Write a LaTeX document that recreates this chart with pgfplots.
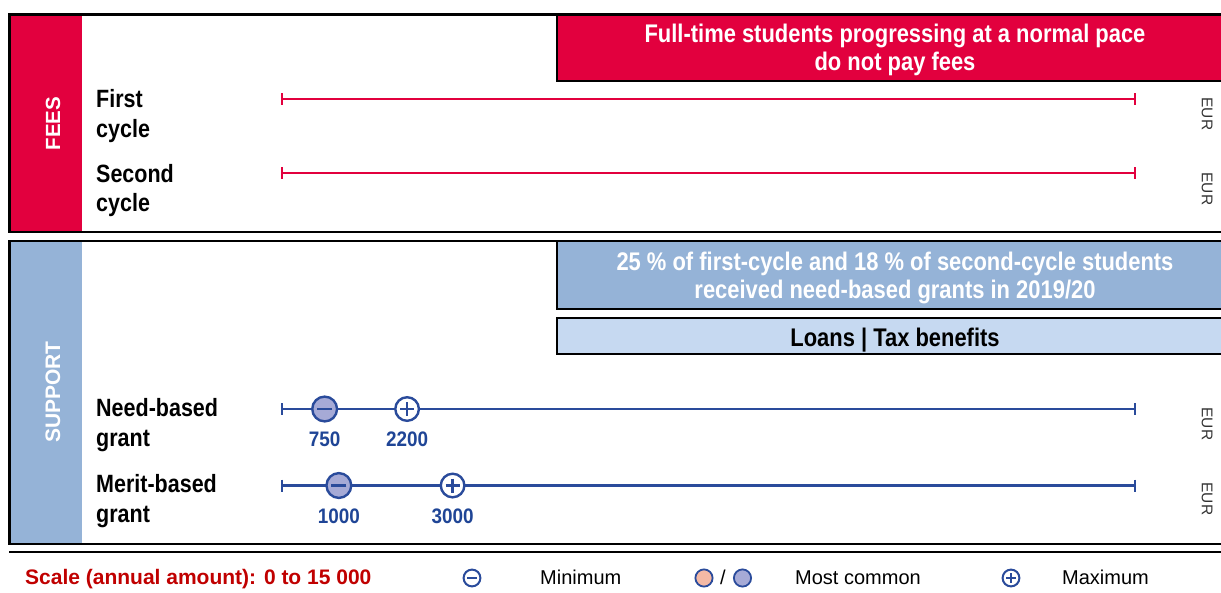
\documentclass[border=0pt]{standalone}
\usepackage{fontspec}
\setmainfont{Liberation Sans}
\newfontfamily\narrow[FakeStretch=0.86]{Liberation Sans}
\newfontfamily\numfont[FakeStretch=0.9]{Liberation Sans}
\usepackage{pgfplots}
\usepackage{pgfplotstable}
\pgfplotsset{compat=1.18}
\usetikzlibrary{plotmarks}
\definecolor{feesred}{HTML}{E2003E}
\definecolor{supblue}{HTML}{95B3D7}
\definecolor{lightblue}{HTML}{C6D9F1}
\definecolor{lineblue}{HTML}{2A4B9B}
\definecolor{numblue}{HTML}{1F4596}
\definecolor{minfill}{HTML}{A6AAD6}
\definecolor{orangefill}{HTML}{F4B9A5}
\definecolor{scalered}{HTML}{C00000}
\definecolor{eurgray}{HTML}{333333}
\newcommand{\fs}[1]{\fontsize{#1}{#1}\selectfont}
% scale: 0 EUR at x=282 px, 15000 EUR at x=1135 px
\newcommand{\eurx}{282+\thisrow{eur}*853/15000}

\pgfplotstableread{
eur y
0 99
15000 99
}\firstcycle
\pgfplotstableread{
eur y
0 173
15000 173
}\secondcycle
\pgfplotstableread{
eur y
0 409
15000 409
}\needline
\pgfplotstableread{
eur y
0 485.5
15000 485.5
}\meritline
\pgfplotstableread{
eur y lbl
750 409 750
1000 485.5 1000
}\minvals
\pgfplotstableread{
eur y lbl
2200 409 2200
3000 485.5 3000
}\maxvals

\begin{document}
\begin{tikzpicture}[every node/.style={inner sep=0pt}]
\begin{axis}[
  width=1221pt, height=592pt, scale only axis,
  xmin=0, xmax=1221, ymin=0, ymax=592, y dir=reverse,
  hide axis, clip=false,
]
% ---- FEES panel
\fill[feesred] (10,15) rectangle (82,232);
\fill[feesred] (557,15) rectangle (1221,81);
\draw[line width=2pt] (557,15) -- (557,81) -- (1221,81);
\draw[line width=2.2pt] (1221,14.5) -- (9.5,14.5) -- (9.5,232) -- (1221,232);
\node[rotate=90, text=white, font=\bfseries\fs{20.5}] at (53,123.5) {FEES};
\node[anchor=base, text=white, font=\narrow\bfseries\fs{25.5}] at (895,42.5)
  {Full-time students progressing at a normal pace};
\node[anchor=base, text=white, font=\narrow\bfseries\fs{25.5}] at (895,70.5)
  {do not pay fees};
\node[anchor=base west, font=\narrow\bfseries\fs{25}] at (96,107) {First};
\node[anchor=base west, font=\narrow\bfseries\fs{25}] at (96,137) {cycle};
\node[anchor=base west, font=\narrow\bfseries\fs{25}] at (96,182) {Second};
\node[anchor=base west, font=\narrow\bfseries\fs{25}] at (96,211.5) {cycle};
\node[rotate=-90, text=eurgray, font=\fs{15.5}] at (1207,114) {EUR};
\node[rotate=-90, text=eurgray, font=\fs{15.5}] at (1207,189) {EUR};

% ---- SUPPORT panel
\fill[supblue] (10,241) rectangle (82,544);
\fill[supblue] (557,241) rectangle (1221,309);
\draw[line width=2pt] (557,241) -- (557,309) -- (1221,309);
\fill[lightblue] (557,318) rectangle (1221,354);
\draw[line width=2pt] (1221,318) -- (557,318) -- (557,354) -- (1221,354);
\draw[line width=2.2pt] (1221,241) -- (9.5,241) -- (9.5,544) -- (1221,544);
\draw[line width=2.2pt] (9,552) -- (1221,552);
\node[rotate=90, text=white, font=\bfseries\fs{21}] at (53,392) {SUPPORT};
\node[anchor=base, text=white, font=\narrow\bfseries\fs{25.5}] at (895,270)
  {25 \% of first-cycle and 18 \% of second-cycle students};
\node[anchor=base, text=white, font=\narrow\bfseries\fs{25.5}] at (895,298.5)
  {received need-based grants in 2019/20};
\node[anchor=base, font=\narrow\bfseries\fs{25.5}] at (895,346)
  {Loans | Tax benefits};
\node[anchor=base west, font=\narrow\bfseries\fs{25}] at (96,416.5) {Need-based};
\node[anchor=base west, font=\narrow\bfseries\fs{25}] at (96,446.5) {grant};
\node[anchor=base west, font=\narrow\bfseries\fs{25}] at (96,492.5) {Merit-based};
\node[anchor=base west, font=\narrow\bfseries\fs{25}] at (96,522) {grant};
\node[rotate=-90, text=eurgray, font=\fs{15.5}] at (1207,424) {EUR};
\node[rotate=-90, text=eurgray, font=\fs{15.5}] at (1207,499) {EUR};

% ---- scale lines
\addplot[feesred, line width=2.5pt, mark=|, mark size=6pt, mark options={line width=2.5pt}]
  table[x expr=\eurx, y=y] {\firstcycle};
\addplot[feesred, line width=2.5pt, mark=|, mark size=6pt, mark options={line width=2.5pt}]
  table[x expr=\eurx, y=y] {\secondcycle};
\addplot[lineblue, line width=2.5pt, mark=|, mark size=6pt, mark options={line width=2.5pt}]
  table[x expr=\eurx, y=y] {\needline};
\addplot[lineblue, line width=2.5pt, mark=|, mark size=6pt, mark options={line width=2.5pt}]
  table[x expr=\eurx, y=y] {\meritline};

% ---- minimum / maximum markers
\addplot[only marks, mark=*, mark size=12.4pt,
  mark options={fill=minfill, draw=lineblue, line width=2.4pt},
  point meta=explicit symbolic, nodes near coords={\pgfplotspointmeta},
  every node near coord/.style={anchor=base, yshift=-37.5pt, font=\numfont\bfseries\fs{21}, text=numblue}]
  table[x expr=\eurx, y=y, meta=lbl] {\minvals};
\addplot[only marks, mark=-, mark size=7.5pt, mark options={draw=lineblue, line width=2.8pt}]
  table[x expr=\eurx, y=y] {\minvals};
\addplot[only marks, mark=*, mark size=11.8pt,
  mark options={fill=white, draw=lineblue, line width=2.4pt},
  point meta=explicit symbolic, nodes near coords={\pgfplotspointmeta},
  every node near coord/.style={anchor=base, yshift=-37.5pt, font=\numfont\bfseries\fs{21}, text=numblue}]
  table[x expr=\eurx, y=y, meta=lbl] {\maxvals};
\addplot[only marks, mark=+, mark size=7pt, mark options={draw=lineblue, line width=2.6pt}]
  table[x expr=\eurx, y=y] {\maxvals};

% ---- legend row
\node[anchor=base west, text=scalered, font=\bfseries\fs{21}] at (25,584)
  {Scale (annual amount): 0 to 15 000};
\addplot[only marks, mark=*, mark size=8.4pt, mark options={fill=white, draw=lineblue, line width=2pt}]
  coordinates {(472,578) (1011,578)};
\addplot[only marks, mark=-, mark size=4.8pt, mark options={draw=lineblue, line width=2.2pt}]
  coordinates {(472,578)};
\addplot[only marks, mark=+, mark size=4.8pt, mark options={draw=lineblue, line width=2.2pt}]
  coordinates {(1011,578)};
\addplot[only marks, mark=*, mark size=8.6pt, mark options={fill=orangefill, draw=lineblue, line width=1.8pt}]
  coordinates {(704,578)};
\addplot[only marks, mark=*, mark size=8.6pt, mark options={fill=minfill, draw=lineblue, line width=1.8pt}]
  coordinates {(742.5,578)};
\node[anchor=base, font=\fs{20}] at (723,584) {/};
\node[anchor=base west, font=\fs{20}] at (540,584) {Minimum};
\node[anchor=base west, font=\fs{20}] at (795,584) {Most common};
\node[anchor=base west, font=\fs{20}] at (1062,584) {Maximum};
\end{axis}
\pgfresetboundingbox
\path (0,0) rectangle (1221pt,592pt);
\end{tikzpicture}
\end{document}
